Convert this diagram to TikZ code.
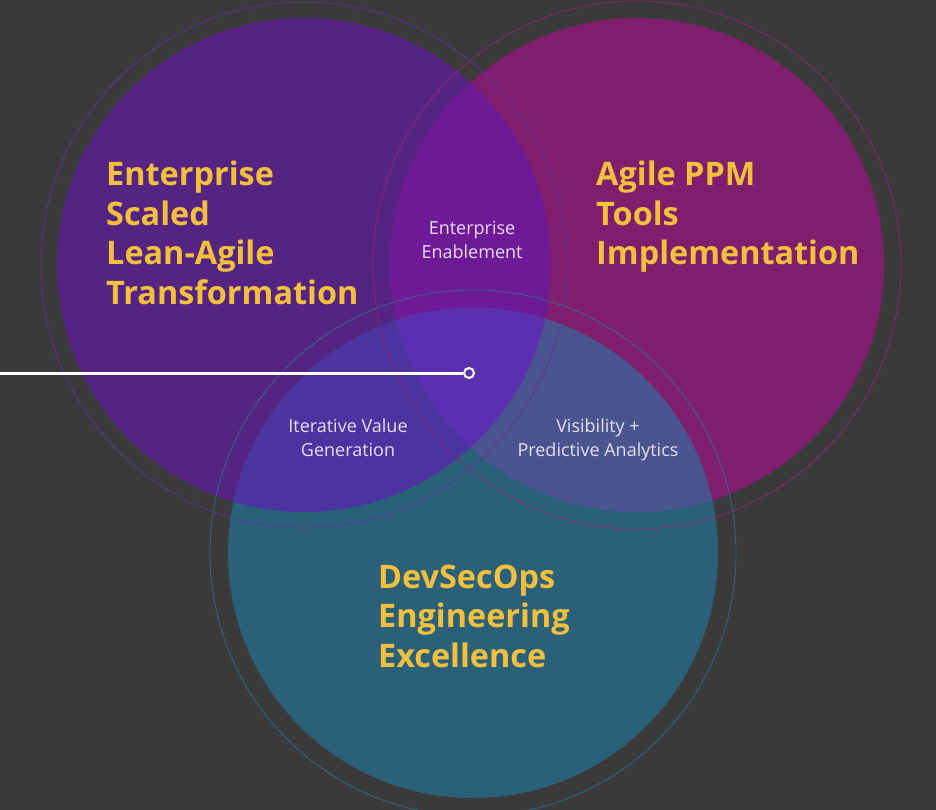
\documentclass[tikz,border=0pt]{standalone}
\usepackage{fontspec}
\setmainfont{Open Sans}
\usepackage{tikz}
\usetikzlibrary{positioning}
\definecolor{bgGray}{HTML}{3A3A3A}
\definecolor{purpleC}{HTML}{552483}
\definecolor{magentaC}{HTML}{7E1E6C}
\definecolor{tealC}{HTML}{2A6179}
\definecolor{pmC}{HTML}{6E1A96}
\definecolor{ptC}{HTML}{4B34A0}
\definecolor{mtC}{HTML}{4A5590}
\definecolor{pmtC}{HTML}{5A30B0}
\definecolor{purpleRing}{HTML}{5E3298}
\definecolor{magentaRing}{HTML}{8C2678}
\definecolor{tealRing}{HTML}{2C6F88}
\definecolor{titleGold}{HTML}{F3C03E}
\definecolor{softWhite}{HTML}{E8DDF2}
\tikzstyle{title}=[text=titleGold, font=\bfseries\fontsize{32.4}{39.5}\selectfont, align=left, anchor=west, inner sep=0pt]
\tikzstyle{overlap}=[text=softWhite, font=\fontsize{18}{24}\selectfont, align=center, inner sep=0pt]
\tikzstyle{ring}=[line width=0.7pt]
\tikzstyle{marker}=[circle, draw=white, fill=pmtC, line width=2pt, minimum size=10pt, inner sep=0pt]

\begin{document}
\begin{tikzpicture}[x=1pt, y=-1pt]
				\fill[bgGray](0,0)rectangle(936,810);
				\useasboundingbox(0,0)rectangle(936,810);
				\coordinate(cP)at(304,265);
				\coordinate(cM)at(637,265);
				\coordinate(cT)at(473,553);
				\fill[purpleC](cP)circle(247pt);
				\fill[magentaC](cM)circle(247pt);
				\fill[tealC](cT)circle(245pt);
				\begin{scope}
					\clip(cP)circle(247pt);
					\fill[pmC](cM)circle(247pt);
					\fill[ptC](cT)circle(245pt);
				\end{scope}
				\begin{scope}
					\clip(cM)circle(247pt);
					\fill[mtC](cT)circle(245pt);
					\clip(cT)circle(245pt);
					\fill[pmtC](cP)circle(247pt);
				\end{scope}
				\draw[ring, purpleRing](cP)circle(263pt);
				\draw[ring, magentaRing](cM)circle(264pt);
				\draw[ring, tealRing](cT)circle(263pt);
				\node[title](scaled)at(106,233){Enterprise\\Scaled\\Lean-Agile\\Transformation};
				\node[title](ppm)at(596,217){Agile PPM\\Tools\\Implementation};
				\node[title](devsecops)at(378,616){DevSecOps\\Engineering\\Excellence};
				\node[overlap](enablement)at(472,240){Enterprise\\Enablement};
				\node[overlap](iterative)at(348,438){Iterative Value\\Generation};
				\node[overlap](visibility)at(598,440){Visibility +\\Predictive Analytics};
				\coordinate(lineStart)at(0,373);
				\node[marker](pointer)at(469,373){};
				\draw[white, line width=3pt](lineStart)--(pointer);
			\end{tikzpicture}
\end{document}
